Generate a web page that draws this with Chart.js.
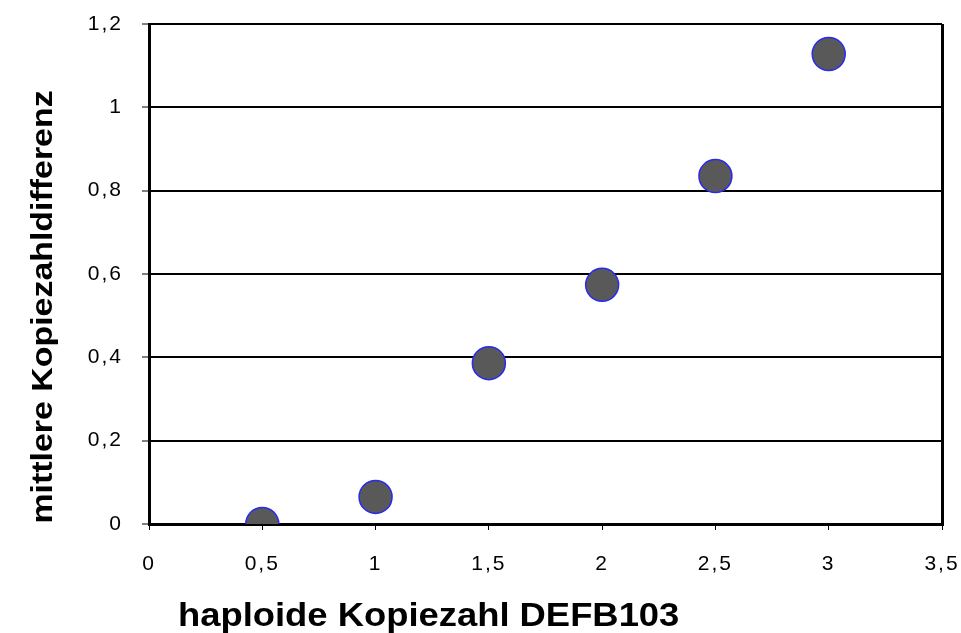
<!DOCTYPE html>
<html>
<head>
<meta charset="utf-8">
<script src="https://cdn.jsdelivr.net/npm/chart.js@4"></script>
<style>
  html, body { margin: 0; padding: 0; background: #fff; }
  #wrap { width: 961px; height: 633px; }
</style>
</head>
<body>
<div id="wrap"><canvas id="c" width="961" height="633"></canvas></div>
<script>
const xValues = [0.5, 1, 1.5, 2, 2.5, 3];
const yValues = [0, 0.065, 0.386, 0.574, 0.835, 1.128];
const xTitle = "haploide Kopiezahl DEFB103";
const yTitle = "mittlere Kopiezahldifferenz";

const FONT = "'Liberation Sans', Arial, sans-serif";
const fmt = (v) => String(Math.round(v * 10) / 10).replace(".", ",");

// tick labels in the original are loosely spaced
const spacing = {
  id: "spacing",
  beforeDraw(chart) { chart.ctx.letterSpacing = "2px"; },
};

// axis titles drawn at fixed spots like the original (slightly stretched)
const titles = {
  id: "titles",
  afterDraw(chart) {
    const c = chart.ctx;
    c.save();
    c.letterSpacing = "0px";
    c.fillStyle = "#000";
    c.textBaseline = "alphabetic";
    c.font = "bold 34px " + FONT;
    c.textAlign = "left";
    c.save();
    c.translate(178, 626);
    c.scale(1.07, 1);
    c.fillText(xTitle, 0, 0);
    c.restore();
    c.font = "bold 30px " + FONT;
    c.translate(52, 307);
    c.rotate(-Math.PI / 2);
    c.scale(1.13, 1);
    c.textAlign = "center";
    c.fillText(yTitle, 0, 0);
    c.restore();
  },
};

new Chart(document.getElementById("c"), {
  type: "scatter",
  data: {
    datasets: [{
      data: xValues.map((x, i) => ({ x, y: yValues[i] })),
      backgroundColor: "#595959",
      borderColor: "#2a2af0",
      borderWidth: 1.5,
      pointRadius: 16.5,
      pointHoverRadius: 16.5,
    }],
  },
  options: {
    responsive: false,
    animation: false,
    layout: { padding: { top: 24, right: 19, left: 0, bottom: 0 } },
    plugins: { legend: { display: false }, tooltip: { enabled: false } },
    scales: {
      x: {
        min: 0, max: 3.5,
        afterFit: (s) => { s.height = 109; s.paddingLeft = 0; s.paddingRight = 0; },
        ticks: { stepSize: 0.5, callback: fmt, color: "#000", padding: 22,
          font: { family: FONT, size: 21 } },
        grid: {
          color: (ctx) => (ctx.tick && ctx.tick.value === 3.5 ? "#000" : "rgba(0,0,0,0)"),
          lineWidth: 3, tickColor: "#000", tickLength: 6, tickWidth: 1,
        },
        border: { color: "#000", width: 3 },
      },
      y: {
        min: 0, max: 1.2,
        afterFit: (s) => { s.width = 149; s.paddingTop = 0; s.paddingBottom = 0; },
        ticks: { stepSize: 0.2, callback: fmt, color: "#000", padding: 19,
          font: { family: FONT, size: 21 } },
        grid: { color: "#000", lineWidth: 2, tickColor: "#000", tickLength: 7, tickWidth: 1 },
        border: { color: "#000", width: 3 },
      },
    },
  },
  plugins: [spacing, titles],
});
</script>
</body>
</html>
